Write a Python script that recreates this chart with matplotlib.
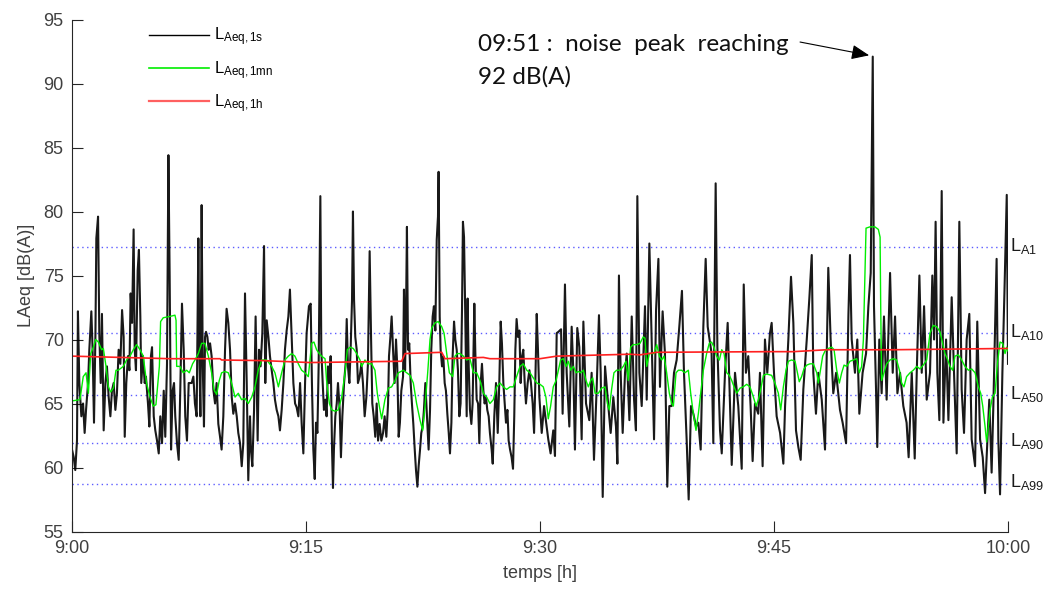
import matplotlib
matplotlib.use('Agg')
import matplotlib.pyplot as plt
from matplotlib.lines import Line2D

plt.rcParams['font.family'] = ['Liberation Sans', 'DejaVu Sans']
plt.rcParams['mathtext.fontset'] = 'custom'
plt.rcParams['mathtext.rm'] = 'Liberation Sans'
plt.rcParams['mathtext.it'] = 'Liberation Sans:italic'

# (minutes after 9:00, dB(A))
laeq_1s_a = [
    (0.00, 61.4), (0.11, 60.8), (0.21, 59.8), (0.32, 62.1), (0.38, 72.2), (0.47, 66.6), (0.60, 64.0),
    (0.71, 65.0), (0.81, 62.7), (0.90, 64.5), (1.03, 66.6), (1.11, 69.2), (1.24, 72.2), (1.32, 69.2),
    (1.41, 63.5), (1.50, 70.2), (1.56, 77.9), (1.67, 79.6), (1.75, 70.5), (1.84, 66.6), (1.92, 72.0),
    (2.03, 62.9), (2.14, 66.6), (2.24, 67.9), (2.35, 65.5), (2.46, 64.0), (2.56, 66.0), (2.67, 66.6),
    (2.78, 64.5), (2.88, 65.8), (2.99, 69.2), (3.10, 68.1), (3.21, 72.3), (3.31, 70.2), (3.38, 62.4),
    (3.48, 66.6), (3.59, 68.7), (3.68, 67.6), (3.76, 73.6), (3.85, 71.3), (3.95, 78.6), (4.02, 69.2),
    (4.10, 67.6), (4.21, 75.4), (4.29, 77.0), (4.38, 71.8), (4.44, 66.6), (4.55, 68.7), (4.66, 66.6),
    (4.74, 67.1), (4.87, 65.0), (4.96, 63.2), (5.06, 68.7), (5.13, 69.4), (5.24, 64.0), (5.34, 62.9),
    (5.45, 62.1), (5.56, 61.1), (5.66, 64.0), (5.77, 61.9), (5.88, 66.0), (5.98, 62.4), (6.09, 68.1),
    (6.18, 84.4), (6.26, 74.9), (6.35, 61.4), (6.45, 66.0), (6.54, 66.6), (6.62, 64.0), (6.73, 61.9),
    (6.84, 60.6), (6.94, 66.0), (7.05, 72.8), (7.16, 69.2), (7.26, 64.0), (7.37, 62.1), (7.48, 66.6),
    (7.67, 66.6), (7.78, 67.1), (7.88, 65.0), (7.99, 64.0), (8.10, 77.9), (8.16, 69.2), (8.23, 64.0),
    (8.31, 80.5), (8.38, 68.1), (8.46, 63.2), (8.53, 70.2), (8.59, 70.6), (8.68, 70.2), (8.76, 69.2),
    (8.85, 69.7), (8.95, 68.7), (9.06, 66.1), (9.17, 65.0), (9.27, 66.6), (9.38, 63.4), (9.49, 62.4),
    (9.59, 61.4), (9.70, 64.0), (9.81, 69.2), (9.91, 72.4), (10.02, 71.3), (10.13, 69.2), (10.24, 65.5),
    (10.34, 64.2), (10.45, 65.0), (10.56, 64.0), (10.66, 62.7), (10.77, 61.9), (10.88, 60.1),
    (10.98, 61.9), (11.09, 73.6), (11.20, 66.6), (11.30, 59.0), (11.41, 64.0), (11.47, 61.4),
    (11.56, 60.1), (11.67, 64.5), (11.77, 71.8), (11.84, 66.6), (11.90, 62.1), (11.99, 69.2),
    (12.09, 67.9), (12.20, 70.5), (12.31, 77.3), (12.39, 66.6), (12.48, 71.5), (12.59, 70.2),
    (12.69, 68.7), (12.80, 67.6), (12.91, 66.6), (13.01, 65.3), (13.12, 64.5), (13.23, 64.0),
    (13.33, 62.9), (13.44, 64.5), (13.55, 66.6), (13.65, 69.2), (13.76, 70.7), (13.87, 71.8),
    (13.97, 73.9), (14.08, 70.2), (14.19, 66.6), (14.30, 65.0), (14.40, 64.7), (14.51, 64.0),
    (14.62, 66.6), (14.72, 63.5), (14.83, 61.1), (14.94, 66.6), (15.04, 70.5),
]
laeq_1s_b = [
    (15.13, 71.8), (15.19, 72.6), (15.30, 72.8), (15.38, 66.6), (15.47, 61.4), (15.56, 59.1),
    (15.64, 63.5), (15.73, 62.7), (15.81, 67.9), (15.88, 76.0), (15.92, 81.2), (15.98, 69.2),
    (16.07, 66.6), (16.15, 64.5), (16.24, 65.3), (16.32, 64.0), (16.41, 67.9), (16.50, 66.6),
    (16.58, 68.7), (16.67, 61.4), (16.73, 58.4), (16.79, 61.4), (16.88, 64.0), (16.97, 65.0),
    (17.05, 66.6), (17.16, 64.5), (17.24, 60.8), (17.33, 64.0), (17.44, 66.6), (17.54, 68.1),
    (17.61, 71.6), (17.69, 67.9), (17.78, 66.6), (17.86, 69.2), (17.95, 73.1), (18.01, 80.0),
    (18.08, 73.1), (18.16, 70.2), (18.25, 69.2), (18.33, 66.6), (18.44, 67.1), (18.55, 68.1),
    (18.65, 66.6), (18.76, 64.0), (18.87, 65.5), (18.97, 68.1), (19.08, 76.9), (19.17, 70.2),
    (19.25, 65.0), (19.34, 64.0), (19.44, 62.4), (19.53, 65.0), (19.62, 62.1), (19.72, 63.4),
    (19.83, 62.1), (19.94, 62.7), (20.04, 64.0), (20.15, 62.4), (20.26, 65.0), (20.32, 68.7),
    (20.41, 70.2), (20.49, 71.8), (20.58, 69.2), (20.68, 66.6), (20.77, 70.0), (20.85, 67.9),
    (20.94, 62.4), (21.02, 63.5), (21.11, 66.0), (21.22, 67.1), (21.28, 73.9), (21.35, 67.6),
    (21.41, 71.8), (21.47, 78.8), (21.54, 69.2), (21.62, 69.7), (21.71, 66.6), (21.79, 65.0),
    (21.88, 63.4), (21.97, 61.4), (22.05, 59.8), (22.14, 58.5), (22.22, 60.1), (22.31, 61.4),
    (22.39, 62.7), (22.48, 63.2), (22.56, 64.5), (22.65, 66.6), (22.78, 63.4), (22.86, 61.4),
    (22.95, 64.5), (23.03, 69.2), (23.12, 71.8), (23.20, 72.6), (23.29, 70.7), (23.38, 77.8),
    (23.46, 79.6), (23.50, 83.1), (23.57, 71.8), (23.63, 69.2), (23.72, 67.9), (23.80, 68.7),
    (23.89, 66.6), (23.97, 66.0), (24.06, 64.2), (24.15, 62.7), (24.23, 61.1), (24.32, 63.5),
    (24.40, 68.7), (24.49, 71.4), (24.57, 70.0), (24.66, 69.2), (24.74, 67.6), (24.83, 64.0),
    (24.91, 65.0), (25.00, 72.3), (25.06, 79.2), (25.13, 78.0), (25.21, 71.8), (25.30, 64.0),
    (25.36, 73.2), (25.43, 67.9), (25.51, 64.5), (25.60, 63.4), (25.68, 65.0), (25.79, 72.8),
    (25.85, 69.2), (25.94, 65.3), (26.03, 65.0), (26.11, 61.9), (26.20, 66.6), (26.28, 68.1),
    (26.37, 66.0), (26.45, 65.0), (26.54, 65.5), (26.62, 64.5), (26.71, 64.0), (26.79, 62.7),
    (26.90, 61.4), (26.97, 60.3), (27.07, 64.0), (27.18, 66.6), (27.29, 62.7), (27.39, 66.6),
    (27.48, 71.4), (27.56, 69.7), (27.65, 66.6), (27.74, 65.0), (27.82, 63.5), (27.91, 64.5),
    (27.99, 62.1), (28.08, 61.4), (28.18, 60.8), (28.27, 59.9), (28.35, 64.0), (28.42, 69.2),
    (28.50, 71.6), (28.59, 70.2), (28.68, 70.7), (28.76, 66.6), (28.85, 68.7), (28.93, 69.2),
    (29.02, 66.6), (29.10, 65.0), (29.21, 66.6), (29.32, 67.6), (29.42, 66.6), (29.53, 65.0),
    (29.62, 62.7), (29.70, 66.6), (29.79, 72.0), (29.87, 69.2), (29.96, 65.5),
]
laeq_1s_c = [
    (30.11, 62.7), (30.26, 64.8), (30.53, 62.2), (30.68, 61.1), (30.85, 62.9), (30.96, 60.9),
    (31.07, 70.5), (31.18, 70.6), (31.35, 70.8), (31.45, 64.2), (31.60, 74.3), (31.71, 67.4),
    (31.88, 63.2), (32.03, 71.0), (32.14, 67.4), (32.24, 61.4), (32.39, 70.9), (32.52, 69.4),
    (32.67, 62.2), (32.78, 71.4), (32.95, 65.0), (33.16, 63.7), (33.31, 67.4), (33.46, 60.6),
    (33.63, 66.1), (33.78, 71.9), (33.89, 67.4), (34.02, 57.7), (34.17, 67.9), (34.38, 64.8),
    (34.53, 62.7), (34.70, 65.5), (34.87, 63.2), (34.96, 60.3), (35.06, 75.0), (35.17, 67.4),
    (35.30, 62.7), (35.45, 67.4), (35.56, 68.9), (35.73, 63.7), (35.88, 71.8), (36.03, 65.3),
    (36.15, 62.9), (36.24, 81.2), (36.37, 67.4), (36.52, 64.8), (36.73, 72.6), (36.84, 65.3),
    (37.01, 77.5), (37.16, 70.0), (37.31, 62.2), (37.44, 72.3), (37.59, 76.3), (37.69, 66.3),
    (37.86, 72.2), (38.01, 68.9), (38.16, 58.5), (38.29, 64.8), (38.44, 64.8), (38.59, 67.4),
    (38.76, 68.4), (38.93, 71.0), (39.10, 73.8), (39.23, 67.4), (39.40, 62.2), (39.53, 57.5),
    (39.68, 64.8), (39.83, 64.2), (40.00, 63.2), (40.15, 63.5), (40.30, 61.4), (40.47, 71.0),
    (40.62, 76.3), (40.75, 71.0), (41.00, 68.9), (41.11, 61.9), (41.26, 82.2), (41.37, 69.4),
    (41.54, 62.9), (41.65, 61.1), (41.86, 67.4), (42.03, 71.3), (42.18, 64.8), (42.29, 60.2),
    (42.50, 67.4), (42.71, 64.8), (42.93, 59.9), (43.06, 74.3), (43.20, 67.4), (43.35, 68.7),
    (43.50, 64.8), (43.63, 60.5), (43.78, 65.0), (43.99, 64.2), (44.10, 67.4),
]
laeq_1s_d = [
    (44.27, 60.1), (44.42, 70.0), (44.57, 67.4), (44.74, 70.5), (44.85, 71.3), (45.00, 67.4),
    (45.17, 64.0), (45.39, 62.7), (45.60, 60.3), (45.71, 64.8), (45.92, 70.0), (46.09, 74.9),
    (46.24, 71.3), (46.41, 62.9), (46.56, 61.6), (46.71, 60.6), (46.88, 66.1), (47.10, 70.0),
    (47.27, 73.3), (47.42, 76.6), (47.52, 67.4), (47.69, 64.2), (47.84, 67.4), (48.06, 65.3),
    (48.27, 61.4), (48.48, 75.6), (48.63, 70.0), (48.80, 65.8), (48.98, 67.4), (49.23, 64.5),
    (49.40, 63.5), (49.62, 61.9), (49.77, 71.9), (49.87, 76.6), (49.98, 70.0), (50.19, 67.4),
    (50.34, 70.0), (50.47, 64.2), (50.68, 67.4), (50.90, 68.9), (51.05, 72.6), (51.20, 75.2),
    (51.33, 92.1), (51.41, 72.6), (51.54, 66.1), (51.62, 61.6), (51.75, 70.0), (51.90, 65.8),
    (52.05, 71.8), (52.22, 65.3), (52.44, 75.2), (52.61, 67.4), (52.76, 71.8), (52.91, 65.8),
    (53.08, 67.4), (53.29, 64.8), (53.50, 63.5), (53.63, 60.8), (53.83, 67.4), (54.02, 60.7),
    (54.15, 67.4), (54.32, 75.0), (54.47, 67.4), (54.62, 72.6), (54.79, 65.3), (55.00, 67.4),
    (55.15, 75.0), (55.26, 70.0), (55.36, 79.2), (55.47, 67.4), (55.60, 63.7), (55.75, 81.6),
    (55.86, 63.5), (56.03, 70.0), (56.18, 63.7), (56.39, 73.3), (56.54, 67.4), (56.71, 61.1),
    (56.88, 79.2), (57.03, 66.1), (57.18, 62.7), (57.35, 70.0), (57.52, 72.0), (57.67, 62.2),
    (57.89, 60.1), (58.03, 71.4), (58.21, 62.2), (58.38, 60.8), (58.53, 58.0), (58.63, 60.8),
    (58.80, 65.3), (58.95, 59.6), (59.06, 64.8), (59.27, 76.3), (59.38, 62.2), (59.49, 57.9),
    (59.64, 67.4), (59.77, 73.6), (59.92, 81.3), (60.00, 68.1),
]

laeq_1mn = [
    (0.00, 65.2), (0.51, 65.3), (0.72, 67.1), (0.90, 67.4), (1.05, 65.8), (1.20, 68.9), (1.37, 69.4),
    (1.52, 70.0), (1.69, 69.8), (1.90, 69.2), (2.01, 69.3), (2.18, 67.9), (2.33, 66.3), (2.48, 65.9),
    (2.65, 66.2), (2.82, 67.6), (2.97, 67.6), (3.29, 67.9), (3.50, 68.4), (3.72, 68.7), (3.93, 69.2),
    (4.14, 69.6), (4.36, 69.2), (4.57, 68.7), (4.78, 66.6), (5.00, 65.5), (5.21, 64.8), (5.38, 64.9),
    (5.60, 67.9), (5.68, 71.4), (5.85, 71.7), (6.28, 71.8), (6.60, 71.9), (6.67, 71.5), (6.71, 67.9),
    (6.92, 67.9), (7.13, 67.4), (7.35, 67.6), (7.52, 67.4), (7.73, 68.1), (7.88, 68.4), (8.10, 68.9),
    (8.31, 69.7), (8.52, 69.7), (8.74, 68.7), (8.95, 67.4), (9.10, 66.1), (9.27, 65.7), (9.44, 66.8),
    (9.59, 67.4), (9.81, 67.5), (10.02, 67.4), (10.23, 66.6), (10.45, 65.5), (10.66, 65.8),
    (10.87, 65.3), (11.09, 65.4), (11.30, 65.0), (11.52, 65.5), (11.73, 66.3), (11.94, 67.6),
    (12.16, 68.4), (12.48, 68.4), (12.80, 67.9), (13.01, 67.4), (13.23, 66.3), (13.44, 67.4),
    (13.65, 68.4), (13.87, 68.7), (14.08, 68.9), (14.29, 68.7), (14.51, 68.1), (14.72, 67.6),
    (14.93, 67.4), (15.15, 67.1), (15.36, 69.7), (15.51, 69.8), (15.68, 69.2), (15.85, 68.9),
    (16.00, 68.7), (16.22, 68.5), (16.32, 66.8), (16.50, 65.0), (16.65, 64.5), (16.86, 64.4),
    (17.07, 64.5), (17.29, 65.5), (17.50, 67.4), (17.65, 69.2), (17.82, 69.4), (18.03, 69.3),
    (18.25, 68.9), (18.46, 68.4), (18.57, 67.9), (18.78, 68.4), (18.99, 68.1), (19.21, 68.1),
    (19.42, 67.6), (19.57, 65.8), (19.70, 64.8), (19.85, 63.8), (20.06, 65.3), (20.28, 66.2),
    (20.49, 66.3), (20.71, 66.8), (20.92, 67.4), (21.24, 67.6), (21.45, 67.4), (21.67, 67.2),
    (21.88, 66.6), (22.09, 65.0), (22.31, 63.7), (22.48, 62.9), (22.63, 64.8), (22.80, 67.4),
    (22.95, 70.0), (23.06, 70.9), (23.27, 71.3), (23.48, 71.4), (23.70, 71.0), (23.85, 70.5),
    (24.02, 68.9), (24.19, 67.4), (24.40, 67.1), (24.55, 68.7), (24.70, 68.9), (24.87, 68.9),
    (25.09, 68.7), (25.30, 68.4), (25.51, 68.5), (25.73, 67.4), (25.94, 67.4), (26.15, 66.8),
    (26.37, 65.8), (26.58, 65.5), (26.79, 65.0), (27.01, 65.3), (27.22, 66.3), (27.44, 66.6),
    (27.65, 66.3), (27.86, 66.1), (28.08, 66.3), (28.29, 66.3), (28.50, 67.1), (28.72, 67.9),
    (28.93, 68.1), (29.15, 67.6), (29.36, 67.4), (29.57, 67.0), (29.79, 66.6), (30.00, 66.5),
    (30.21, 66.3), (30.38, 65.5), (30.53, 63.8), (30.68, 64.8), (30.85, 66.3), (31.03, 66.8),
    (31.18, 67.6), (31.32, 68.4), (31.50, 68.5), (31.67, 67.9), (31.82, 68.3), (31.97, 67.6),
    (32.14, 67.9), (32.31, 67.4), (32.46, 67.5), (32.61, 67.4), (32.78, 67.6), (32.95, 66.8),
    (33.10, 66.3), (33.25, 66.8), (33.38, 67.0), (33.53, 65.8), (33.74, 65.8), (33.95, 66.2),
    (34.17, 66.3), (34.32, 65.0), (34.44, 64.5), (34.59, 66.1), (34.74, 67.4), (34.91, 67.6),
    (35.13, 67.6), (35.34, 67.9), (35.51, 68.3), (35.66, 66.8), (35.81, 69.4), (35.98, 69.6),
    (36.20, 69.6), (36.41, 69.7), (36.62, 70.2), (36.73, 70.1), (36.84, 67.9), (37.01, 68.9),
    (37.31, 68.9), (37.48, 69.6), (37.65, 68.7), (37.80, 68.4), (37.95, 68.7), (38.12, 67.4),
    (38.29, 65.8), (38.44, 65.0), (38.55, 64.8), (38.72, 67.4), (38.87, 67.6), (39.08, 67.6),
    (39.29, 67.4), (39.51, 67.6), (39.66, 65.8), (39.83, 64.2), (40.00, 62.9), (40.15, 64.2),
    (40.30, 65.8), (40.47, 67.6), (40.68, 68.9), (40.85, 69.7), (41.00, 69.8), (41.15, 69.4),
    (41.32, 68.7), (41.50, 68.4), (41.65, 69.2), (41.80, 68.9), (41.97, 67.4), (42.14, 67.2),
    (42.29, 66.8), (42.44, 66.3), (42.61, 65.8), (42.82, 66.2), (43.03, 66.3), (43.25, 66.5),
    (43.46, 66.3), (43.68, 65.5), (43.85, 64.8), (44.00, 65.3), (44.15, 66.1), (44.32, 67.2),
    (44.53, 67.3), (44.85, 67.2), (45.06, 66.6), (45.28, 65.8), (45.43, 64.5), (45.60, 66.3),
    (45.77, 67.6), (45.92, 68.3), (46.13, 68.4), (46.35, 68.3), (46.50, 67.4), (46.62, 66.7),
    (46.77, 67.1), (46.92, 67.7), (47.10, 68.0), (47.31, 68.1), (47.52, 68.1), (47.74, 67.4),
    (47.84, 66.6), (47.95, 67.4), (48.12, 68.7), (48.27, 69.1), (48.48, 69.3), (48.70, 69.4),
    (48.85, 69.2), (49.02, 67.6), (49.19, 66.6), (49.34, 67.4), (49.49, 68.0), (49.66, 67.9),
    (49.87, 68.3), (50.09, 68.4), (50.30, 68.5), (50.47, 67.4), (50.62, 67.9), (50.73, 70.0),
    (50.83, 75.2), (50.90, 78.7), (51.15, 78.8), (51.47, 78.8), (51.69, 78.6), (51.80, 78.0),
    (51.84, 72.6), (51.90, 66.8), (52.05, 67.4), (52.22, 68.1), (52.44, 68.4), (52.65, 68.5),
    (52.86, 68.4), (53.04, 67.6), (53.18, 66.6), (53.33, 66.3), (53.50, 67.1), (53.72, 67.4),
    (53.93, 67.6), (54.15, 67.9), (54.36, 67.7), (54.57, 68.0), (54.79, 68.4), (55.00, 70.5),
    (55.21, 71.1), (55.43, 71.0), (55.64, 70.6), (55.81, 69.7), (55.96, 68.9), (56.11, 68.5),
    (56.28, 67.9), (56.45, 67.6), (56.60, 68.7), (56.82, 68.8), (57.03, 68.4), (57.24, 67.9),
    (57.46, 67.6), (57.67, 67.7), (57.89, 67.4), (58.10, 66.3), (58.25, 65.8), (58.38, 64.8),
    (58.53, 63.2), (58.63, 62.0), (58.74, 63.2), (58.85, 64.5), (59.00, 65.5), (59.17, 65.8),
    (59.32, 68.1), (59.49, 69.8), (59.66, 69.7), (59.81, 68.9), (59.92, 69.4), (60.00, 69.1),
]

laeq_1h = [
    (0.0, 68.7), (6.28, 68.5), (9.49, 68.5), (9.59, 68.4), (12.26, 68.35), (15.25, 68.2),
    (21.13, 68.3), (21.35, 68.9), (23.70, 69.0), (23.91, 68.5), (26.37, 68.6), (26.79, 68.5),
    (30.0, 68.5), (31.07, 68.7), (35.77, 68.85), (36.41, 68.8), (37.48, 69.0), (44.74, 69.05),
    (46.24, 69.05), (48.38, 69.2), (52.65, 69.2), (60.0, 69.3),
]

# statistical levels
stat_names = ['A1', 'A10', 'A50', 'A90', 'A99']
stat_values = [77.25, 70.5, 65.65, 61.95, 58.75]

x_ticks = [0, 15, 30, 45, 60]
x_tick_labels = ['9:00', '9:15', '9:30', '9:45', '10:00']
y_ticks = [55, 60, 65, 70, 75, 80, 85, 90, 95]

peak_time = 51.33
peak_value = 92.1

pts_1s = laeq_1s_a + laeq_1s_b + laeq_1s_c + laeq_1s_d
t_1s, v_1s = zip(*pts_1s)
t_1mn, v_1mn = zip(*laeq_1mn)
t_1h, v_1h = zip(*laeq_1h)

fig = plt.figure(figsize=(10.47, 5.97), dpi=100)
ax = fig.add_axes([72 / 1047, 1 - 531.5 / 597, 936 / 1047, 512 / 597])

ax.hlines(stat_values, 0, 60, colors='#3333ff', linestyles=(0, (1, 2.5)), linewidth=1, alpha=0.8)
ax.plot(t_1s, v_1s, color='black', linewidth=1.5, alpha=0.9)
ax.plot(t_1mn, v_1mn, color='#00ee00', linewidth=1.0)
ax.plot(t_1h, v_1h, color='#ff2020', linewidth=1.2)

for name, val in zip(stat_names, stat_values):
    ax.text(60.15, val - 0.3, r'L$_{\mathrm{%s}}$' % name, fontsize=13, color='#1a1a1a',
            va='baseline', ha='left', clip_on=False)

ax.set_xlim(0, 60)
ax.set_ylim(55, 95)
ax.set_xticks(x_ticks)
ax.set_xticklabels(x_tick_labels)
ax.set_yticks(y_ticks)
for side in ['top', 'right']:
    ax.spines[side].set_visible(False)
for side in ['left', 'bottom']:
    ax.spines[side].set_color('#262626')
    ax.spines[side].set_linewidth(0.8)
ax.tick_params(direction='in', length=8, width=0.8, color='#262626', labelcolor='#404040',
               labelsize=13, pad=6)
ax.set_xlabel('temps [h]', fontsize=13, color='#404040', labelpad=6)
ax.set_ylabel('LAeq [dB(A)]', fontsize=13, color='#404040', labelpad=6)

handles = [Line2D([], [], color='black', lw=1.0),
           Line2D([], [], color='#00ee00', lw=1.2),
           Line2D([], [], color='#ff6060', lw=1.6)]
ax.legend(handles, [r'L$_{\mathrm{Aeq,1s}}$', r'L$_{\mathrm{Aeq,1mn}}$', r'L$_{\mathrm{Aeq,1h}}$'],
          loc='upper left', bbox_to_anchor=(0.0823, 0.988), frameon=False, fontsize=12,
          handlelength=3.6, handletextpad=0.3, labelspacing=0.64, borderpad=0, borderaxespad=0)

note_font = ['Lato', 'DejaVu Sans']
ax.text(26.03, 92.54, '09:51 :  noise  peak  reaching', family=note_font, fontsize=17.5,
        color='#111111', ha='left', va='baseline')
ax.text(26.03, 89.98, '92 dB(A)', family=note_font, fontsize=17.5,
        color='#111111', ha='left', va='baseline')
ax.annotate('', xy=(51.1, 92.2), xytext=(46.67, 93.24),
            arrowprops=dict(arrowstyle='-|>,head_length=0.6,head_width=0.25', color='black',
                            lw=0.8, mutation_scale=18, shrinkA=0, shrinkB=0))

fig.savefig('out.png', dpi=100)
